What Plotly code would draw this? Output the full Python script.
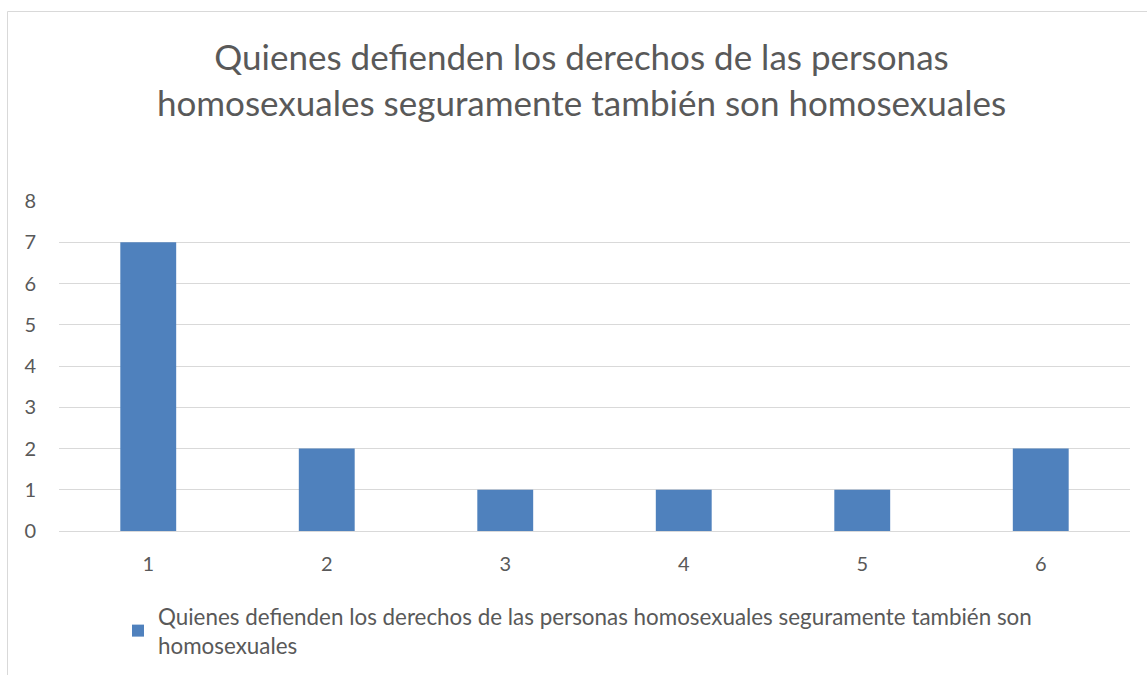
import plotly.graph_objects as go

categories = ["1", "2", "3", "4", "5", "6"]
values = [7, 2, 1, 1, 1, 2]
series_name = "Quienes defienden los derechos de las personas homosexuales seguramente también son<br>homosexuales"
title_text = "Quienes defienden los derechos de las personas<br>homosexuales seguramente también son homosexuales"

W, H = 1147, 675
ml, mr, mt, mb = 59, 17, 201, 144
pw, ph = W - ml - mr, H - mt - mb

def px_x(x):
    return (x - ml) / pw

def px_y(y):
    return (H - mb - y) / ph

font_family = "Lato, 'Open Sans', sans-serif"
gray = "#595959"

fig = go.Figure()
fig.add_trace(go.Bar(
    x=categories, y=values, name=series_name,
    marker=dict(color="#4f81bd", line=dict(width=0)),
    width=0.313, showlegend=True,
))

fig.update_layout(
    width=W, height=H,
    margin=dict(l=ml, r=mr, t=mt, b=mb, autoexpand=False),
    paper_bgcolor="white", plot_bgcolor="white",
    font=dict(family=font_family, color=gray, size=20),
    title=dict(text=title_text, x=581.5 / W, xref="container", xanchor="center",
               y=1 - 70 / H, yanchor="top",
               font=dict(size=35, color=gray, family=font_family)),
    xaxis=dict(type="category", showgrid=False, showline=False, ticks="", automargin=False,
               tickfont=dict(size=20, color=gray), ticklabelstandoff=19),
    yaxis=dict(range=[0, 8], dtick=1, showgrid=True, gridcolor="#d9d9d9", gridwidth=1,
               zeroline=True, zerolinecolor="#d9d9d9", zerolinewidth=1, automargin=False,
               showline=False, ticks="", tickfont=dict(size=20, color=gray),
               ticklabelstandoff=22),
    legend=dict(orientation="h", x=px_x(118), xanchor="left", y=px_y(595), yanchor="top",
                font=dict(size=22.4, color=gray), bgcolor="rgba(0,0,0,0)", itemwidth=30),
    bargap=0.687,
    shapes=[dict(type="rect", xref="paper", yref="paper",
                 x0=px_x(7.5), x1=px_x(1160), y0=px_y(700), y1=px_y(11.5),
                 line=dict(color="#d9d9d9", width=1), fillcolor="rgba(0,0,0,0)", layer="below")],
)

fig.write_html("out.html", config={"displayModeBar": False},
               post_script="document.body.style.margin='0';document.body.style.overflow='hidden';")
